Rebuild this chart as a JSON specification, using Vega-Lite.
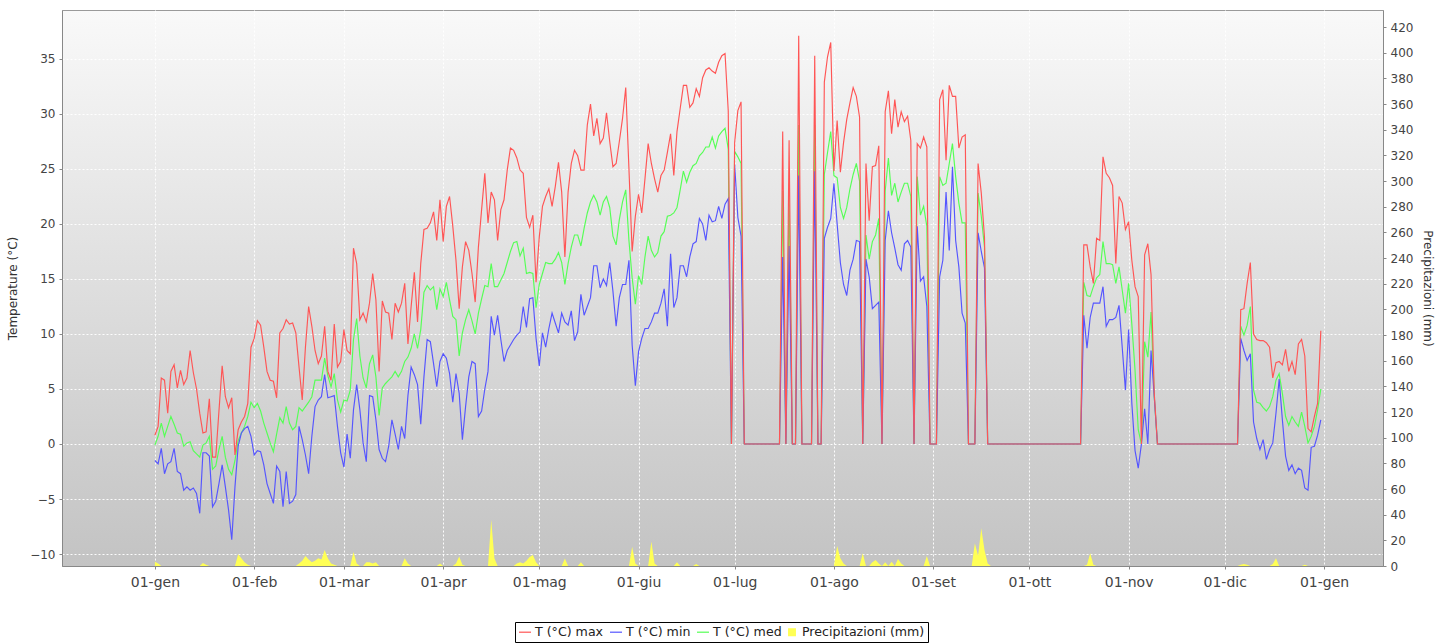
{
"$schema": "https://vega.github.io/schema/vega-lite/v6.json",
"width": 1321, "height": 556,
"autosize": {"type": "none"},
"padding": {"left": 62, "top": 10, "right": 53, "bottom": 77},
"background": "#ffffff",
"view": {"fill": {"gradient": "linear", "x1": 0, "y1": 0, "x2": 0, "y2": 1, "stops": [{"offset": 0, "color": "#f9f9f9"}, {"offset": 1, "color": "#c3c3c3"}]}, "stroke": "#9a9a9a", "strokeWidth": 1},
"config": {
  "font": "DejaVu Sans",
  "axis": {"labelFont": "DejaVu Sans", "labelFontSize": 12, "labelColor": "#444444", "titleFont": "DejaVu Sans", "titleFontSize": 12, "titleFontWeight": "normal", "titleColor": "#333333", "tickColor": "#888888", "domainColor": "#888888", "tickSize": 3, "labelPadding": 4, "grid": false, "gridColor": "#ffffff", "gridDash": [2, 2], "gridOpacity": 0.95, "gridWidth": 1}
},
"data": {"values": [
{"date":"2015-01-01","tmax":0.8,"tmin":-1.5,"tmed":-0.1,"prec":3.4},
{"date":"2015-01-02","tmax":1.6,"tmin":-1.8,"tmed":0.7,"prec":2.0},
{"date":"2015-01-03","tmax":6.0,"tmin":-0.4,"tmed":1.9,"prec":0},
{"date":"2015-01-04","tmax":5.8,"tmin":-2.7,"tmed":0.7,"prec":0},
{"date":"2015-01-05","tmax":2.8,"tmin":-1.8,"tmed":1.6,"prec":0},
{"date":"2015-01-06","tmax":6.6,"tmin":-1.6,"tmed":2.5,"prec":0},
{"date":"2015-01-07","tmax":7.2,"tmin":-0.4,"tmed":1.8,"prec":0},
{"date":"2015-01-08","tmax":5.1,"tmin":-2.5,"tmed":1.0,"prec":0},
{"date":"2015-01-09","tmax":6.7,"tmin":-2.7,"tmed":0.9,"prec":0},
{"date":"2015-01-10","tmax":5.4,"tmin":-4.2,"tmed":-0.2,"prec":0},
{"date":"2015-01-11","tmax":6.0,"tmin":-3.9,"tmed":0.1,"prec":0},
{"date":"2015-01-12","tmax":8.5,"tmin":-4.2,"tmed":0.2,"prec":0},
{"date":"2015-01-13","tmax":6.5,"tmin":-4.0,"tmed":-0.6,"prec":0},
{"date":"2015-01-14","tmax":5.0,"tmin":-4.5,"tmed":-0.9,"prec":0},
{"date":"2015-01-15","tmax":2.8,"tmin":-6.3,"tmed":-1.2,"prec":0},
{"date":"2015-01-16","tmax":1.0,"tmin":-0.8,"tmed":-0.1,"prec":2.3},
{"date":"2015-01-17","tmax":1.1,"tmin":-0.8,"tmed":0.1,"prec":1.0},
{"date":"2015-01-18","tmax":4.1,"tmin":-1.1,"tmed":0.7,"prec":0},
{"date":"2015-01-19","tmax":-1.2,"tmin":-5.7,"tmed":-2.3,"prec":0},
{"date":"2015-01-20","tmax":-1.2,"tmin":-5.2,"tmed":-2.0,"prec":0},
{"date":"2015-01-21","tmax":3.0,"tmin":-3.6,"tmed":-0.5,"prec":0},
{"date":"2015-01-22","tmax":7.1,"tmin":-1.9,"tmed":0.7,"prec":0},
{"date":"2015-01-23","tmax":4.3,"tmin":-3.9,"tmed":-1.2,"prec":0},
{"date":"2015-01-24","tmax":3.3,"tmin":-6.0,"tmed":-2.3,"prec":0},
{"date":"2015-01-25","tmax":4.2,"tmin":-8.7,"tmed":-2.8,"prec":0},
{"date":"2015-01-26","tmax":-1.0,"tmin":-3.9,"tmed":-1.5,"prec":0},
{"date":"2015-01-27","tmax":1.3,"tmin":-0.2,"tmed":0.3,"prec":9.1},
{"date":"2015-01-28","tmax":2.0,"tmin":1.0,"tmed":1.0,"prec":6.0},
{"date":"2015-01-29","tmax":2.5,"tmin":1.4,"tmed":1.6,"prec":3.0},
{"date":"2015-01-30","tmax":3.7,"tmin":1.6,"tmed":2.5,"prec":1.0},
{"date":"2015-01-31","tmax":8.8,"tmin":0.7,"tmed":3.8,"prec":0},
{"date":"2015-02-01","tmax":9.6,"tmin":-1.0,"tmed":3.3,"prec":0},
{"date":"2015-02-02","tmax":11.2,"tmin":-0.6,"tmed":3.7,"prec":0},
{"date":"2015-02-03","tmax":10.8,"tmin":-0.7,"tmed":3.0,"prec":0},
{"date":"2015-02-04","tmax":8.8,"tmin":-1.9,"tmed":1.9,"prec":0},
{"date":"2015-02-05","tmax":6.6,"tmin":-3.6,"tmed":1.0,"prec":0},
{"date":"2015-02-06","tmax":5.8,"tmin":-4.5,"tmed":0.1,"prec":0},
{"date":"2015-02-07","tmax":5.7,"tmin":-5.4,"tmed":-0.7,"prec":0},
{"date":"2015-02-08","tmax":4.2,"tmin":-2.0,"tmed":0.9,"prec":0},
{"date":"2015-02-09","tmax":10.1,"tmin":-2.5,"tmed":2.4,"prec":0},
{"date":"2015-02-10","tmax":10.5,"tmin":-5.7,"tmed":1.9,"prec":0},
{"date":"2015-02-11","tmax":11.3,"tmin":-2.5,"tmed":3.4,"prec":0},
{"date":"2015-02-12","tmax":10.9,"tmin":-5.4,"tmed":1.9,"prec":0},
{"date":"2015-02-13","tmax":11.0,"tmin":-5.2,"tmed":1.3,"prec":0},
{"date":"2015-02-14","tmax":10.1,"tmin":-4.6,"tmed":1.6,"prec":0},
{"date":"2015-02-15","tmax":7.0,"tmin":1.6,"tmed":3.3,"prec":2.0},
{"date":"2015-02-16","tmax":4.0,"tmin":0.4,"tmed":3.0,"prec":4.0},
{"date":"2015-02-17","tmax":8.8,"tmin":-1.0,"tmed":3.4,"prec":7.8},
{"date":"2015-02-18","tmax":12.5,"tmin":-2.7,"tmed":3.8,"prec":5.0},
{"date":"2015-02-19","tmax":10.7,"tmin":0.7,"tmed":4.3,"prec":3.0},
{"date":"2015-02-20","tmax":8.5,"tmin":3.4,"tmed":5.8,"prec":4.0},
{"date":"2015-02-21","tmax":7.3,"tmin":4.0,"tmed":5.8,"prec":6.0},
{"date":"2015-02-22","tmax":8.0,"tmin":4.3,"tmed":5.8,"prec":5.0},
{"date":"2015-02-23","tmax":10.7,"tmin":6.3,"tmed":7.8,"prec":12.5},
{"date":"2015-02-24","tmax":6.6,"tmin":4.2,"tmed":6.2,"prec":6.0},
{"date":"2015-02-25","tmax":5.8,"tmin":4.3,"tmed":5.2,"prec":2.0},
{"date":"2015-02-26","tmax":10.9,"tmin":4.4,"tmed":6.4,"prec":1.0},
{"date":"2015-02-27","tmax":7.0,"tmin":1.6,"tmed":4.0,"prec":0},
{"date":"2015-02-28","tmax":7.5,"tmin":-0.8,"tmed":2.9,"prec":0},
{"date":"2015-03-01","tmax":10.4,"tmin":-2.1,"tmed":4.0,"prec":0},
{"date":"2015-03-02","tmax":8.5,"tmin":0.9,"tmed":3.9,"prec":0},
{"date":"2015-03-03","tmax":8.2,"tmin":-1.3,"tmed":4.9,"prec":0},
{"date":"2015-03-04","tmax":17.8,"tmin":3.1,"tmed":9.5,"prec":11.0},
{"date":"2015-03-05","tmax":16.4,"tmin":5.4,"tmed":11.4,"prec":2.0},
{"date":"2015-03-06","tmax":11.3,"tmin":3.1,"tmed":8.0,"prec":0},
{"date":"2015-03-07","tmax":11.9,"tmin":0.1,"tmed":6.0,"prec":0},
{"date":"2015-03-08","tmax":11.1,"tmin":-1.6,"tmed":5.1,"prec":3.0},
{"date":"2015-03-09","tmax":12.8,"tmin":4.4,"tmed":7.3,"prec":3.0},
{"date":"2015-03-10","tmax":15.5,"tmin":4.3,"tmed":8.1,"prec":2.0},
{"date":"2015-03-11","tmax":13.1,"tmin":2.2,"tmed":6.1,"prec":3.0},
{"date":"2015-03-12","tmax":6.6,"tmin":-0.5,"tmed":2.6,"prec":0},
{"date":"2015-03-13","tmax":13.0,"tmin":-1.3,"tmed":5.1,"prec":0},
{"date":"2015-03-14","tmax":12.0,"tmin":-1.6,"tmed":5.5,"prec":0},
{"date":"2015-03-15","tmax":11.9,"tmin":-0.2,"tmed":5.8,"prec":0},
{"date":"2015-03-16","tmax":9.5,"tmin":2.2,"tmed":6.1,"prec":0},
{"date":"2015-03-17","tmax":12.8,"tmin":0.9,"tmed":6.6,"prec":0},
{"date":"2015-03-18","tmax":12.0,"tmin":-0.5,"tmed":6.1,"prec":0},
{"date":"2015-03-19","tmax":12.8,"tmin":1.6,"tmed":6.6,"prec":0},
{"date":"2015-03-20","tmax":14.6,"tmin":0.5,"tmed":7.5,"prec":6.0},
{"date":"2015-03-21","tmax":9.1,"tmin":4.4,"tmed":7.9,"prec":2.0},
{"date":"2015-03-22","tmax":12.5,"tmin":7.0,"tmed":8.7,"prec":0},
{"date":"2015-03-23","tmax":15.6,"tmin":6.3,"tmed":10.0,"prec":0},
{"date":"2015-03-24","tmax":11.1,"tmin":5.4,"tmed":8.7,"prec":0},
{"date":"2015-03-25","tmax":16.4,"tmin":1.8,"tmed":10.4,"prec":0},
{"date":"2015-03-26","tmax":19.5,"tmin":6.1,"tmed":13.8,"prec":0},
{"date":"2015-03-27","tmax":19.6,"tmin":9.5,"tmed":14.4,"prec":0},
{"date":"2015-03-28","tmax":20.1,"tmin":9.3,"tmed":14.0,"prec":0},
{"date":"2015-03-29","tmax":21.1,"tmin":7.3,"tmed":14.3,"prec":0},
{"date":"2015-03-30","tmax":18.5,"tmin":5.2,"tmed":12.2,"prec":0},
{"date":"2015-03-31","tmax":22.2,"tmin":7.5,"tmed":14.1,"prec":2.0},
{"date":"2015-04-01","tmax":18.4,"tmin":8.2,"tmed":13.4,"prec":0},
{"date":"2015-04-02","tmax":21.6,"tmin":7.8,"tmed":14.7,"prec":0},
{"date":"2015-04-03","tmax":22.5,"tmin":6.4,"tmed":13.1,"prec":0},
{"date":"2015-04-04","tmax":19.8,"tmin":3.8,"tmed":11.6,"prec":0},
{"date":"2015-04-05","tmax":16.7,"tmin":6.4,"tmed":11.3,"prec":2.0},
{"date":"2015-04-06","tmax":12.3,"tmin":4.6,"tmed":8.0,"prec":7.5},
{"date":"2015-04-07","tmax":16.1,"tmin":0.4,"tmed":10.1,"prec":1.0},
{"date":"2015-04-08","tmax":18.4,"tmin":3.4,"tmed":11.3,"prec":0},
{"date":"2015-04-09","tmax":17.6,"tmin":6.1,"tmed":12.2,"prec":0},
{"date":"2015-04-10","tmax":15.5,"tmin":7.5,"tmed":11.2,"prec":0},
{"date":"2015-04-11","tmax":12.9,"tmin":7.3,"tmed":10.0,"prec":0},
{"date":"2015-04-12","tmax":17.9,"tmin":2.5,"tmed":11.9,"prec":0},
{"date":"2015-04-13","tmax":21.3,"tmin":3.0,"tmed":13.2,"prec":0},
{"date":"2015-04-14","tmax":24.6,"tmin":5.0,"tmed":14.4,"prec":0},
{"date":"2015-04-15","tmax":20.1,"tmin":6.6,"tmed":14.3,"prec":0},
{"date":"2015-04-16","tmax":22.9,"tmin":11.6,"tmed":16.4,"prec":36.0},
{"date":"2015-04-17","tmax":22.2,"tmin":9.9,"tmed":14.3,"prec":6.0},
{"date":"2015-04-18","tmax":18.5,"tmin":11.7,"tmed":14.3,"prec":0},
{"date":"2015-04-19","tmax":21.3,"tmin":9.5,"tmed":14.9,"prec":0},
{"date":"2015-04-20","tmax":22.2,"tmin":7.5,"tmed":15.5,"prec":0},
{"date":"2015-04-21","tmax":24.9,"tmin":8.5,"tmed":16.5,"prec":0},
{"date":"2015-04-22","tmax":26.9,"tmin":9.0,"tmed":17.5,"prec":0},
{"date":"2015-04-23","tmax":26.7,"tmin":9.5,"tmed":18.3,"prec":0},
{"date":"2015-04-24","tmax":26.0,"tmin":9.9,"tmed":18.4,"prec":2.0},
{"date":"2015-04-25","tmax":24.9,"tmin":10.2,"tmed":17.1,"prec":3.0},
{"date":"2015-04-26","tmax":24.6,"tmin":12.5,"tmed":17.8,"prec":2.0},
{"date":"2015-04-27","tmax":20.6,"tmin":10.6,"tmed":15.5,"prec":4.0},
{"date":"2015-04-28","tmax":19.7,"tmin":13.2,"tmed":15.6,"prec":7.0},
{"date":"2015-04-29","tmax":20.8,"tmin":13.3,"tmed":15.5,"prec":8.6},
{"date":"2015-04-30","tmax":14.7,"tmin":9.6,"tmed":12.4,"prec":3.0},
{"date":"2015-05-01","tmax":18.8,"tmin":7.1,"tmed":14.5,"prec":0},
{"date":"2015-05-02","tmax":21.6,"tmin":10.1,"tmed":15.5,"prec":0},
{"date":"2015-05-03","tmax":22.5,"tmin":8.8,"tmed":16.5,"prec":0},
{"date":"2015-05-04","tmax":23.2,"tmin":10.5,"tmed":16.4,"prec":0},
{"date":"2015-05-05","tmax":21.6,"tmin":11.9,"tmed":16.4,"prec":0},
{"date":"2015-05-06","tmax":23.4,"tmin":11.0,"tmed":16.8,"prec":0},
{"date":"2015-05-07","tmax":25.6,"tmin":10.1,"tmed":17.4,"prec":0},
{"date":"2015-05-08","tmax":22.9,"tmin":11.9,"tmed":16.5,"prec":0},
{"date":"2015-05-09","tmax":17.0,"tmin":11.1,"tmed":14.5,"prec":5.8},
{"date":"2015-05-10","tmax":22.9,"tmin":10.8,"tmed":16.4,"prec":0},
{"date":"2015-05-11","tmax":25.5,"tmin":12.1,"tmed":17.9,"prec":0},
{"date":"2015-05-12","tmax":26.7,"tmin":9.4,"tmed":19.0,"prec":0},
{"date":"2015-05-13","tmax":26.2,"tmin":10.2,"tmed":19.0,"prec":0},
{"date":"2015-05-14","tmax":24.9,"tmin":13.6,"tmed":18.0,"prec":3.0},
{"date":"2015-05-15","tmax":24.9,"tmin":11.7,"tmed":19.6,"prec":0},
{"date":"2015-05-16","tmax":29.0,"tmin":12.5,"tmed":21.0,"prec":0},
{"date":"2015-05-17","tmax":30.9,"tmin":13.3,"tmed":22.0,"prec":0},
{"date":"2015-05-18","tmax":28.0,"tmin":16.2,"tmed":22.6,"prec":0},
{"date":"2015-05-19","tmax":29.6,"tmin":16.2,"tmed":22.0,"prec":0},
{"date":"2015-05-20","tmax":27.3,"tmin":14.2,"tmed":20.8,"prec":0},
{"date":"2015-05-21","tmax":27.8,"tmin":15.0,"tmed":22.0,"prec":0},
{"date":"2015-05-22","tmax":30.1,"tmin":14.4,"tmed":22.5,"prec":0},
{"date":"2015-05-23","tmax":27.5,"tmin":16.5,"tmed":21.5,"prec":0},
{"date":"2015-05-24","tmax":25.2,"tmin":13.9,"tmed":18.9,"prec":0},
{"date":"2015-05-25","tmax":25.5,"tmin":10.7,"tmed":18.1,"prec":0},
{"date":"2015-05-26","tmax":27.5,"tmin":13.3,"tmed":20.4,"prec":0},
{"date":"2015-05-27","tmax":29.6,"tmin":14.5,"tmed":22.0,"prec":0},
{"date":"2015-05-28","tmax":32.4,"tmin":14.5,"tmed":23.1,"prec":0},
{"date":"2015-05-29","tmax":25.0,"tmin":16.7,"tmed":18.5,"prec":0},
{"date":"2015-05-30","tmax":17.5,"tmin":9.0,"tmed":15.1,"prec":15.0},
{"date":"2015-05-31","tmax":20.7,"tmin":5.3,"tmed":12.7,"prec":2.0},
{"date":"2015-06-01","tmax":22.7,"tmin":8.4,"tmed":15.3,"prec":0},
{"date":"2015-06-02","tmax":21.0,"tmin":9.6,"tmed":14.5,"prec":0},
{"date":"2015-06-03","tmax":24.1,"tmin":10.5,"tmed":17.0,"prec":0},
{"date":"2015-06-04","tmax":27.3,"tmin":10.5,"tmed":18.9,"prec":0},
{"date":"2015-06-05","tmax":25.5,"tmin":11.1,"tmed":17.6,"prec":19.0},
{"date":"2015-06-06","tmax":24.1,"tmin":11.9,"tmed":17.0,"prec":2.0},
{"date":"2015-06-07","tmax":22.9,"tmin":11.9,"tmed":17.4,"prec":0},
{"date":"2015-06-08","tmax":24.4,"tmin":12.8,"tmed":18.9,"prec":0},
{"date":"2015-06-09","tmax":24.9,"tmin":14.1,"tmed":19.3,"prec":0},
{"date":"2015-06-10","tmax":26.5,"tmin":10.7,"tmed":20.7,"prec":0},
{"date":"2015-06-11","tmax":28.2,"tmin":17.3,"tmed":20.8,"prec":0},
{"date":"2015-06-12","tmax":24.4,"tmin":12.4,"tmed":21.0,"prec":0},
{"date":"2015-06-13","tmax":28.4,"tmin":13.3,"tmed":21.5,"prec":3.0},
{"date":"2015-06-14","tmax":30.5,"tmin":16.2,"tmed":23.1,"prec":0},
{"date":"2015-06-15","tmax":32.6,"tmin":16.2,"tmed":24.8,"prec":0},
{"date":"2015-06-16","tmax":32.6,"tmin":15.2,"tmed":23.8,"prec":0},
{"date":"2015-06-17","tmax":30.6,"tmin":17.0,"tmed":24.7,"prec":0},
{"date":"2015-06-18","tmax":31.0,"tmin":18.2,"tmed":25.3,"prec":0},
{"date":"2015-06-19","tmax":32.3,"tmin":18.4,"tmed":25.5,"prec":1.5},
{"date":"2015-06-20","tmax":31.6,"tmin":20.5,"tmed":26.2,"prec":0},
{"date":"2015-06-21","tmax":33.3,"tmin":20.0,"tmed":26.5,"prec":0},
{"date":"2015-06-22","tmax":34.0,"tmin":18.5,"tmed":27.0,"prec":0},
{"date":"2015-06-23","tmax":34.2,"tmin":20.8,"tmed":27.0,"prec":0},
{"date":"2015-06-24","tmax":33.9,"tmin":20.2,"tmed":27.9,"prec":0},
{"date":"2015-06-25","tmax":33.7,"tmin":20.3,"tmed":26.9,"prec":0},
{"date":"2015-06-26","tmax":34.7,"tmin":21.6,"tmed":28.0,"prec":0},
{"date":"2015-06-27","tmax":35.3,"tmin":20.5,"tmed":28.4,"prec":0},
{"date":"2015-06-28","tmax":35.5,"tmin":21.8,"tmed":28.7,"prec":0},
{"date":"2015-06-29","tmax":30.3,"tmin":22.3,"tmed":26.8,"prec":0},
{"date":"2015-06-30","tmax":0,"tmin":0,"tmed":0,"prec":0},
{"date":"2015-07-01","tmax":27.4,"tmin":25.4,"tmed":26.6,"prec":0},
{"date":"2015-07-02","tmax":30.3,"tmin":20.6,"tmed":26.1,"prec":0},
{"date":"2015-07-03","tmax":31.1,"tmin":18.9,"tmed":25.5,"prec":0},
{"date":"2015-07-04","tmax":0,"tmin":0,"tmed":0,"prec":0},
{"date":"2015-07-05","tmax":0,"tmin":0,"tmed":0,"prec":0},
{"date":"2015-07-06","tmax":0,"tmin":0,"tmed":0,"prec":0},
{"date":"2015-07-07","tmax":0,"tmin":0,"tmed":0,"prec":0},
{"date":"2015-07-08","tmax":0,"tmin":0,"tmed":0,"prec":0},
{"date":"2015-07-09","tmax":0,"tmin":0,"tmed":0,"prec":0},
{"date":"2015-07-10","tmax":0,"tmin":0,"tmed":0,"prec":0},
{"date":"2015-07-11","tmax":0,"tmin":0,"tmed":0,"prec":0},
{"date":"2015-07-12","tmax":0,"tmin":0,"tmed":0,"prec":0},
{"date":"2015-07-13","tmax":0,"tmin":0,"tmed":0,"prec":0},
{"date":"2015-07-14","tmax":0,"tmin":0,"tmed":0,"prec":0},
{"date":"2015-07-15","tmax":0,"tmin":0,"tmed":0,"prec":0},
{"date":"2015-07-16","tmax":28.4,"tmin":17.0,"tmed":23.0,"prec":0},
{"date":"2015-07-17","tmax":0,"tmin":0,"tmed":0,"prec":0},
{"date":"2015-07-18","tmax":27.6,"tmin":18.0,"tmed":23.0,"prec":0},
{"date":"2015-07-19","tmax":0,"tmin":0,"tmed":0,"prec":0},
{"date":"2015-07-20","tmax":0,"tmin":0,"tmed":0,"prec":0},
{"date":"2015-07-21","tmax":37.1,"tmin":24.4,"tmed":29.0,"prec":0},
{"date":"2015-07-22","tmax":0,"tmin":0,"tmed":0,"prec":0},
{"date":"2015-07-23","tmax":0,"tmin":0,"tmed":0,"prec":0},
{"date":"2015-07-24","tmax":0,"tmin":0,"tmed":0,"prec":0},
{"date":"2015-07-25","tmax":0,"tmin":0,"tmed":0,"prec":0},
{"date":"2015-07-26","tmax":35.3,"tmin":24.8,"tmed":29.0,"prec":0},
{"date":"2015-07-27","tmax":0,"tmin":0,"tmed":0,"prec":0},
{"date":"2015-07-28","tmax":0,"tmin":0,"tmed":0,"prec":0},
{"date":"2015-07-29","tmax":32.9,"tmin":18.7,"tmed":24.5,"prec":0},
{"date":"2015-07-30","tmax":35.2,"tmin":19.7,"tmed":26.5,"prec":0},
{"date":"2015-07-31","tmax":36.5,"tmin":20.5,"tmed":28.4,"prec":0},
{"date":"2015-08-01","tmax":24.8,"tmin":23.7,"tmed":24.4,"prec":0},
{"date":"2015-08-02","tmax":29.4,"tmin":20.0,"tmed":24.2,"prec":15.6},
{"date":"2015-08-03","tmax":24.7,"tmin":16.5,"tmed":21.5,"prec":6.0},
{"date":"2015-08-04","tmax":27.4,"tmin":14.5,"tmed":20.5,"prec":2.0},
{"date":"2015-08-05","tmax":29.5,"tmin":13.5,"tmed":21.5,"prec":0},
{"date":"2015-08-06","tmax":31.0,"tmin":15.8,"tmed":23.2,"prec":0},
{"date":"2015-08-07","tmax":32.4,"tmin":16.8,"tmed":24.5,"prec":0},
{"date":"2015-08-08","tmax":31.6,"tmin":18.5,"tmed":25.5,"prec":0},
{"date":"2015-08-09","tmax":29.7,"tmin":18.4,"tmed":23.9,"prec":0},
{"date":"2015-08-10","tmax":0,"tmin":0,"tmed":0,"prec":10.0},
{"date":"2015-08-11","tmax":25.5,"tmin":16.8,"tmed":19.0,"prec":0},
{"date":"2015-08-12","tmax":20.3,"tmin":15.2,"tmed":16.8,"prec":0},
{"date":"2015-08-13","tmax":25.2,"tmin":12.3,"tmed":18.4,"prec":3.0},
{"date":"2015-08-14","tmax":25.3,"tmin":12.6,"tmed":19.0,"prec":4.7},
{"date":"2015-08-15","tmax":27.1,"tmin":12.9,"tmed":20.5,"prec":2.0},
{"date":"2015-08-16","tmax":0,"tmin":0,"tmed":0,"prec":0},
{"date":"2015-08-17","tmax":30.2,"tmin":18.5,"tmed":23.0,"prec":3.0},
{"date":"2015-08-18","tmax":32.1,"tmin":21.2,"tmed":26.0,"prec":0},
{"date":"2015-08-19","tmax":28.2,"tmin":19.2,"tmed":22.6,"prec":3.4},
{"date":"2015-08-20","tmax":31.3,"tmin":17.8,"tmed":23.7,"prec":0},
{"date":"2015-08-21","tmax":28.8,"tmin":16.3,"tmed":22.0,"prec":5.4},
{"date":"2015-08-22","tmax":30.2,"tmin":15.8,"tmed":22.9,"prec":2.0},
{"date":"2015-08-23","tmax":29.3,"tmin":18.2,"tmed":23.7,"prec":0},
{"date":"2015-08-24","tmax":29.8,"tmin":18.5,"tmed":23.7,"prec":0},
{"date":"2015-08-25","tmax":27.6,"tmin":17.9,"tmed":22.5,"prec":0},
{"date":"2015-08-26","tmax":0,"tmin":0,"tmed":0,"prec":0},
{"date":"2015-08-27","tmax":27.3,"tmin":19.8,"tmed":24.3,"prec":0},
{"date":"2015-08-28","tmax":26.9,"tmin":14.8,"tmed":20.8,"prec":0},
{"date":"2015-08-29","tmax":27.9,"tmin":15.2,"tmed":21.6,"prec":0},
{"date":"2015-08-30","tmax":27.0,"tmin":12.5,"tmed":19.8,"prec":7.8},
{"date":"2015-08-31","tmax":0,"tmin":0,"tmed":0,"prec":0},
{"date":"2015-09-01","tmax":0,"tmin":0,"tmed":0,"prec":0},
{"date":"2015-09-02","tmax":0,"tmin":0,"tmed":0,"prec":0},
{"date":"2015-09-03","tmax":31.3,"tmin":15.2,"tmed":24.3,"prec":0},
{"date":"2015-09-04","tmax":32.2,"tmin":16.7,"tmed":23.5,"prec":0},
{"date":"2015-09-05","tmax":25.8,"tmin":22.9,"tmed":23.7,"prec":0},
{"date":"2015-09-06","tmax":32.6,"tmin":17.6,"tmed":25.5,"prec":0},
{"date":"2015-09-07","tmax":31.6,"tmin":25.2,"tmed":27.3,"prec":0},
{"date":"2015-09-08","tmax":31.6,"tmin":18.5,"tmed":24.3,"prec":0},
{"date":"2015-09-09","tmax":26.9,"tmin":16.1,"tmed":21.9,"prec":0},
{"date":"2015-09-10","tmax":27.9,"tmin":11.9,"tmed":20.1,"prec":0},
{"date":"2015-09-11","tmax":28.1,"tmin":11.0,"tmed":20.1,"prec":0},
{"date":"2015-09-12","tmax":0,"tmin":0,"tmed":0,"prec":0},
{"date":"2015-09-13","tmax":0,"tmin":0,"tmed":0,"prec":0},
{"date":"2015-09-14","tmax":0,"tmin":0,"tmed":0,"prec":17.7},
{"date":"2015-09-15","tmax":25.5,"tmin":19.2,"tmed":22.8,"prec":8.0},
{"date":"2015-09-16","tmax":22.8,"tmin":17.5,"tmed":20.7,"prec":29.4},
{"date":"2015-09-17","tmax":18.8,"tmin":16.0,"tmed":17.9,"prec":12.5},
{"date":"2015-09-18","tmax":0,"tmin":0,"tmed":0,"prec":2.0},
{"date":"2015-09-19","tmax":0,"tmin":0,"tmed":0,"prec":0},
{"date":"2015-09-20","tmax":0,"tmin":0,"tmed":0,"prec":0},
{"date":"2015-09-21","tmax":0,"tmin":0,"tmed":0,"prec":0},
{"date":"2015-09-22","tmax":0,"tmin":0,"tmed":0,"prec":0},
{"date":"2015-09-23","tmax":0,"tmin":0,"tmed":0,"prec":0},
{"date":"2015-09-24","tmax":0,"tmin":0,"tmed":0,"prec":0},
{"date":"2015-09-25","tmax":0,"tmin":0,"tmed":0,"prec":0},
{"date":"2015-09-26","tmax":0,"tmin":0,"tmed":0,"prec":0},
{"date":"2015-09-27","tmax":0,"tmin":0,"tmed":0,"prec":0},
{"date":"2015-09-28","tmax":0,"tmin":0,"tmed":0,"prec":0},
{"date":"2015-09-29","tmax":0,"tmin":0,"tmed":0,"prec":0},
{"date":"2015-09-30","tmax":0,"tmin":0,"tmed":0,"prec":0},
{"date":"2015-10-01","tmax":0,"tmin":0,"tmed":0,"prec":0},
{"date":"2015-10-02","tmax":0,"tmin":0,"tmed":0,"prec":0},
{"date":"2015-10-03","tmax":0,"tmin":0,"tmed":0,"prec":0},
{"date":"2015-10-04","tmax":0,"tmin":0,"tmed":0,"prec":0},
{"date":"2015-10-05","tmax":0,"tmin":0,"tmed":0,"prec":0},
{"date":"2015-10-06","tmax":0,"tmin":0,"tmed":0,"prec":0},
{"date":"2015-10-07","tmax":0,"tmin":0,"tmed":0,"prec":0},
{"date":"2015-10-08","tmax":0,"tmin":0,"tmed":0,"prec":0},
{"date":"2015-10-09","tmax":0,"tmin":0,"tmed":0,"prec":0},
{"date":"2015-10-10","tmax":0,"tmin":0,"tmed":0,"prec":0},
{"date":"2015-10-11","tmax":0,"tmin":0,"tmed":0,"prec":0},
{"date":"2015-10-12","tmax":0,"tmin":0,"tmed":0,"prec":0},
{"date":"2015-10-13","tmax":0,"tmin":0,"tmed":0,"prec":0},
{"date":"2015-10-14","tmax":0,"tmin":0,"tmed":0,"prec":0},
{"date":"2015-10-15","tmax":0,"tmin":0,"tmed":0,"prec":0},
{"date":"2015-10-16","tmax":0,"tmin":0,"tmed":0,"prec":0},
{"date":"2015-10-17","tmax":0,"tmin":0,"tmed":0,"prec":0},
{"date":"2015-10-18","tmax":18.1,"tmin":11.7,"tmed":14.7,"prec":0},
{"date":"2015-10-19","tmax":18.1,"tmin":8.7,"tmed":13.5,"prec":1.0},
{"date":"2015-10-20","tmax":16.1,"tmin":11.5,"tmed":13.4,"prec":9.9},
{"date":"2015-10-21","tmax":14.6,"tmin":12.8,"tmed":14.3,"prec":1.0},
{"date":"2015-10-22","tmax":18.7,"tmin":12.8,"tmed":15.1,"prec":0},
{"date":"2015-10-23","tmax":18.5,"tmin":12.8,"tmed":15.4,"prec":0},
{"date":"2015-10-24","tmax":26.1,"tmin":14.3,"tmed":18.4,"prec":0},
{"date":"2015-10-25","tmax":24.6,"tmin":10.7,"tmed":16.4,"prec":0},
{"date":"2015-10-26","tmax":24.2,"tmin":11.3,"tmed":16.4,"prec":0},
{"date":"2015-10-27","tmax":23.5,"tmin":11.3,"tmed":16.3,"prec":0},
{"date":"2015-10-28","tmax":16.4,"tmin":11.5,"tmed":14.6,"prec":0},
{"date":"2015-10-29","tmax":22.5,"tmin":12.6,"tmed":16.1,"prec":0},
{"date":"2015-10-30","tmax":21.9,"tmin":8.8,"tmed":14.0,"prec":0},
{"date":"2015-10-31","tmax":19.5,"tmin":4.9,"tmed":11.9,"prec":0},
{"date":"2015-11-01","tmax":20.2,"tmin":10.4,"tmed":14.6,"prec":0},
{"date":"2015-11-02","tmax":16.7,"tmin":3.7,"tmed":10.9,"prec":0},
{"date":"2015-11-03","tmax":14.3,"tmin":-0.6,"tmed":6.7,"prec":0},
{"date":"2015-11-04","tmax":13.4,"tmin":-2.2,"tmed":1.3,"prec":0},
{"date":"2015-11-05","tmax":0,"tmin":0,"tmed":0,"prec":0},
{"date":"2015-11-06","tmax":17.2,"tmin":3.2,"tmed":9.3,"prec":0},
{"date":"2015-11-07","tmax":18.2,"tmin":0.0,"tmed":7.9,"prec":0},
{"date":"2015-11-08","tmax":15.4,"tmin":8.5,"tmed":12.0,"prec":0},
{"date":"2015-11-09","tmax":4.6,"tmin":4.3,"tmed":4.3,"prec":0},
{"date":"2015-11-10","tmax":0,"tmin":0,"tmed":0,"prec":0},
{"date":"2015-11-11","tmax":0,"tmin":0,"tmed":0,"prec":0},
{"date":"2015-11-12","tmax":0,"tmin":0,"tmed":0,"prec":0},
{"date":"2015-11-13","tmax":0,"tmin":0,"tmed":0,"prec":0},
{"date":"2015-11-14","tmax":0,"tmin":0,"tmed":0,"prec":0},
{"date":"2015-11-15","tmax":0,"tmin":0,"tmed":0,"prec":0},
{"date":"2015-11-16","tmax":0,"tmin":0,"tmed":0,"prec":0},
{"date":"2015-11-17","tmax":0,"tmin":0,"tmed":0,"prec":0},
{"date":"2015-11-18","tmax":0,"tmin":0,"tmed":0,"prec":0},
{"date":"2015-11-19","tmax":0,"tmin":0,"tmed":0,"prec":0},
{"date":"2015-11-20","tmax":0,"tmin":0,"tmed":0,"prec":0},
{"date":"2015-11-21","tmax":0,"tmin":0,"tmed":0,"prec":0},
{"date":"2015-11-22","tmax":0,"tmin":0,"tmed":0,"prec":0},
{"date":"2015-11-23","tmax":0,"tmin":0,"tmed":0,"prec":0},
{"date":"2015-11-24","tmax":0,"tmin":0,"tmed":0,"prec":0},
{"date":"2015-11-25","tmax":0,"tmin":0,"tmed":0,"prec":0},
{"date":"2015-11-26","tmax":0,"tmin":0,"tmed":0,"prec":0},
{"date":"2015-11-27","tmax":0,"tmin":0,"tmed":0,"prec":0},
{"date":"2015-11-28","tmax":0,"tmin":0,"tmed":0,"prec":0},
{"date":"2015-11-29","tmax":0,"tmin":0,"tmed":0,"prec":0},
{"date":"2015-11-30","tmax":0,"tmin":0,"tmed":0,"prec":0},
{"date":"2015-12-01","tmax":0,"tmin":0,"tmed":0,"prec":0},
{"date":"2015-12-02","tmax":0,"tmin":0,"tmed":0,"prec":0},
{"date":"2015-12-03","tmax":0,"tmin":0,"tmed":0,"prec":0},
{"date":"2015-12-04","tmax":0,"tmin":0,"tmed":0,"prec":0},
{"date":"2015-12-05","tmax":0,"tmin":0,"tmed":0,"prec":0},
{"date":"2015-12-06","tmax":12.2,"tmin":9.6,"tmed":10.7,"prec":1.0},
{"date":"2015-12-07","tmax":12.3,"tmin":8.5,"tmed":9.9,"prec":1.5},
{"date":"2015-12-08","tmax":14.6,"tmin":7.6,"tmed":10.8,"prec":1.0},
{"date":"2015-12-09","tmax":16.5,"tmin":8.2,"tmed":12.5,"prec":0},
{"date":"2015-12-10","tmax":10.0,"tmin":2.0,"tmed":4.9,"prec":0},
{"date":"2015-12-11","tmax":9.5,"tmin":0.5,"tmed":3.8,"prec":0},
{"date":"2015-12-12","tmax":9.4,"tmin":-0.5,"tmed":3.7,"prec":0},
{"date":"2015-12-13","tmax":9.4,"tmin":0.4,"tmed":3.3,"prec":0},
{"date":"2015-12-14","tmax":9.2,"tmin":-1.4,"tmed":3.0,"prec":0},
{"date":"2015-12-15","tmax":8.8,"tmin":-0.5,"tmed":3.4,"prec":0},
{"date":"2015-12-16","tmax":6.0,"tmin":0.1,"tmed":4.3,"prec":1.5},
{"date":"2015-12-17","tmax":7.4,"tmin":2.8,"tmed":5.8,"prec":6.0},
{"date":"2015-12-18","tmax":7.5,"tmin":5.9,"tmed":6.4,"prec":0},
{"date":"2015-12-19","tmax":7.2,"tmin":2.2,"tmed":4.6,"prec":0},
{"date":"2015-12-20","tmax":8.6,"tmin":-1.1,"tmed":2.5,"prec":0},
{"date":"2015-12-21","tmax":6.6,"tmin":-2.4,"tmed":1.7,"prec":0},
{"date":"2015-12-22","tmax":7.5,"tmin":-1.9,"tmed":2.5,"prec":0},
{"date":"2015-12-23","tmax":6.3,"tmin":-2.7,"tmed":2.0,"prec":0},
{"date":"2015-12-24","tmax":9.1,"tmin":-2.2,"tmed":1.6,"prec":0},
{"date":"2015-12-25","tmax":9.5,"tmin":-2.4,"tmed":2.9,"prec":0},
{"date":"2015-12-26","tmax":8.0,"tmin":-4.0,"tmed":1.6,"prec":1.0},
{"date":"2015-12-27","tmax":1.4,"tmin":-4.2,"tmed":0.1,"prec":0},
{"date":"2015-12-28","tmax":1.1,"tmin":-0.3,"tmed":0.7,"prec":0},
{"date":"2015-12-29","tmax":2.5,"tmin":-0.2,"tmed":1.6,"prec":0},
{"date":"2015-12-30","tmax":3.7,"tmin":0.8,"tmed":3.1,"prec":0},
{"date":"2015-12-31","tmax":10.3,"tmin":2.2,"tmed":5.0,"prec":0}
]},
"encoding": {
  "x": {"field": "date", "type": "temporal",
    "scale": {"type": "utc", "domain": [{"year": 2014, "month": 12, "date": 3, "utc": true}, {"year": 2016, "month": 1, "date": 19, "hours": 10, "utc": true}]},
    "axis": {"title": null, "grid": true, "labelFontSize": 14, "labelPadding": 6, "tickSize": 3,
      "values": [{"year":2015,"month":1,"date":1,"utc":true},{"year":2015,"month":2,"date":1,"utc":true},{"year":2015,"month":3,"date":1,"utc":true},{"year":2015,"month":4,"date":1,"utc":true},{"year":2015,"month":5,"date":1,"utc":true},{"year":2015,"month":6,"date":1,"utc":true},{"year":2015,"month":7,"date":1,"utc":true},{"year":2015,"month":8,"date":1,"utc":true},{"year":2015,"month":9,"date":1,"utc":true},{"year":2015,"month":10,"date":1,"utc":true},{"year":2015,"month":11,"date":1,"utc":true},{"year":2015,"month":12,"date":1,"utc":true},{"year":2016,"month":1,"date":1,"utc":true}],
      "labelExpr": "'01-' + ['gen','feb','mar','apr','mag','giu','lug','ago','set','ott','nov','dic'][utcmonth(datum.value)]"}}
},
"layer": [
  {"mark": {"type": "area", "opacity": 1, "interpolate": "linear"},
   "encoding": {
     "y": {"field": "prec", "type": "quantitative", "scale": {"domain": [0, 433.3], "nice": false, "zero": true},
       "axis": {"orient": "right", "title": "Precipitazioni (mm)", "values": [0,20,40,60,80,100,120,140,160,180,200,220,240,260,280,300,320,340,360,380,400,420], "grid": false, "titlePadding": 8, "labelPadding": 4}},
     "color": {"datum": "Precipitazioni (mm)", "type": "nominal",
       "scale": {"domain": ["T (°C) max", "T (°C) min", "T (°C) med", "Precipitazioni (mm)"], "range": ["#ff5555", "#5555ff", "#55ff55", "#ffff55"]},
       "legend": {"title": null, "orient": "none", "legendX": 453, "legendY": 612, "direction": "horizontal", "columns": 4, "strokeColor": "#000000", "fillColor": "#ffffff", "padding": 3, "columnPadding": 3, "labelOffset": 3, "labelFont": "DejaVu Sans", "labelFontSize": 12.6, "labelColor": "#222222", "symbolSize": 144, "symbolType": "stroke", "symbolStrokeWidth": 1.2,
         "encoding": {"symbols": {
           "shape": {"value": {"expr": "datum.value === 'Precipitazioni (mm)' ? 'square' : 'stroke'"}},
           "fill": {"value": {"expr": "datum.value === 'Precipitazioni (mm)' ? '#ffff55' : 'transparent'"}},
           "stroke": {"value": {"expr": "datum.value === 'T (°C) max' ? '#ff5555' : datum.value === 'T (°C) min' ? '#5555ff' : datum.value === 'T (°C) med' ? '#55ff55' : 'transparent'"}},
           "size": {"value": {"expr": "datum.value === 'Precipitazioni (mm)' ? 45 : 144"}},
           "strokeWidth": {"value": 1.2},
           "opacity": {"value": 1}
         }}}}
   }},
  {"layer": [
    {"mark": {"type": "line", "strokeWidth": 1.15, "interpolate": "linear"},
     "encoding": {
       "y": {"field": "tmed", "type": "quantitative", "scale": {"domain": [-11.09, 39.45], "nice": false, "zero": false},
         "axis": {"orient": "left", "title": "Temperature (°C)", "values": [-10,-5,0,5,10,15,20,25,30,35], "grid": true, "titlePadding": 10}},
       "color": {"datum": "T (°C) med", "type": "nominal"}
     }},
    {"mark": {"type": "line", "strokeWidth": 1.15, "interpolate": "linear"},
     "encoding": {
       "y": {"field": "tmin", "type": "quantitative", "axis": {"orient": "left", "title": "Temperature (°C)", "values": [-10,-5,0,5,10,15,20,25,30,35], "grid": true, "titlePadding": 10}},
       "color": {"datum": "T (°C) min", "type": "nominal"}
     }},
    {"mark": {"type": "line", "strokeWidth": 1.15, "interpolate": "linear"},
     "encoding": {
       "y": {"field": "tmax", "type": "quantitative", "axis": {"orient": "left", "title": "Temperature (°C)", "values": [-10,-5,0,5,10,15,20,25,30,35], "grid": true, "titlePadding": 10}},
       "color": {"datum": "T (°C) max", "type": "nominal"}
     }}
  ]}
],
"resolve": {"scale": {"y": "independent"}}
}
